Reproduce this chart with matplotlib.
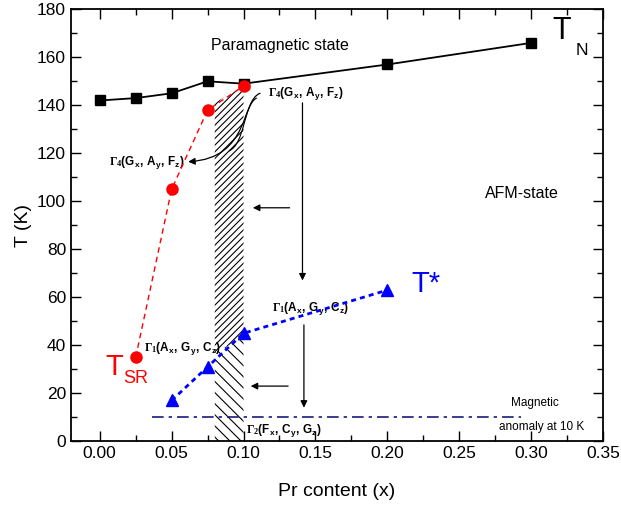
import matplotlib
matplotlib.use("Agg")
import matplotlib.pyplot as plt
from matplotlib.path import Path
from matplotlib.patches import FancyArrowPatch

plt.rcParams['font.family'] = ['Liberation Sans', 'DejaVu Sans']
plt.rcParams['mathtext.fontset'] = 'custom'
plt.rcParams['mathtext.rm'] = 'Liberation Sans'
plt.rcParams['mathtext.bf'] = 'Liberation Serif:bold'
plt.rcParams['mathtext.sf'] = 'Liberation Sans:bold'
plt.rcParams['hatch.linewidth'] = 0.8

# data
x_tn = [0.0, 0.025, 0.05, 0.075, 0.10, 0.20, 0.30]
t_n = [142, 143, 145, 150, 149, 157, 166]

x_sr = [0.025, 0.05, 0.075, 0.10]
t_sr = [35, 105, 138, 148]

x_star = [0.05, 0.075, 0.10, 0.20]
t_star = [17, 31, 45, 63]

anomaly_T = 10
anomaly_x = [0.036, 0.293]

# crossover band
band_x = [0.08, 0.10]
band_top = [141, 148]
band_mid = [37, 43]

fig = plt.figure(figsize=(6.21, 5.08), dpi=100)
ax = fig.add_axes([0.1143, 0.1313, 0.8567, 0.8504])

# hatched band
ax.fill([band_x[0], band_x[1], band_x[1], band_x[0]],
        [band_mid[0], band_mid[1], band_top[1], band_top[0]],
        facecolor='none', edgecolor='black', hatch='/////', lw=0)
ax.fill([band_x[0], band_x[1], band_x[1], band_x[0]],
        [0, 0, band_mid[1], band_mid[0]],
        facecolor='none', edgecolor='black', hatch='\\\\\\', lw=0)

ax.plot(x_tn, t_n, color='black', lw=1.3, marker='s', ms=7, zorder=5)
ax.plot(x_sr, t_sr, color='red', lw=1.0, ls=(0, (4, 3)), marker='o', ms=8,
        zorder=5)
ax.plot(x_star, t_star, color='blue', lw=2.0, ls=(0, (1.8, 1.5)),
        marker='^', ms=8, zorder=5)
ax.plot(anomaly_x, [anomaly_T, anomaly_T], color='#1a1a80', lw=1.2,
        ls=(0, (7, 3, 2, 3)))

# axes
ax.set_xlim(-0.02, 0.35)
ax.set_ylim(0, 180)
ax.set_xticks([0.0, 0.05, 0.10, 0.15, 0.20, 0.25, 0.30, 0.35])
ax.set_xticks([0.025 + 0.05 * i for i in range(7)], minor=True)
ax.set_yticks(range(0, 181, 20))
ax.set_yticks(range(10, 180, 20), minor=True)
ax.tick_params(which='both', direction='in', top=True, right=True,
               labelsize=12.5, width=1)
ax.tick_params(which='major', length=7)
ax.tick_params(which='minor', length=4)
for s in ax.spines.values():
    s.set_linewidth(1.3)
ax.set_xlabel('Pr content (x)', fontsize=14, labelpad=16)
ax.set_ylabel('T (K)', fontsize=14, labelpad=4)

# big labels
ax.text(0.3146, 171, 'T', fontsize=22, va='center', ha='left')
ax.text(0.331, 163, 'N', fontsize=12.5, va='center', ha='left')
ax.text(0.2167, 65.5, 'T*', fontsize=21, va='center', ha='left', color='blue')
ax.text(0.004, 31, 'T', fontsize=21, va='center', ha='left', color='red')
ax.text(0.016, 26, 'SR', fontsize=13, va='center', ha='left', color='red')

ax.text(0.125, 165, 'Paramagnetic state', fontsize=11.5, ha='center',
        va='center')
ax.text(0.2934, 103.3, 'AFM-state', fontsize=11.5, ha='center', va='center')
ax.text(0.286, 15.8, 'Magnetic', fontsize=8.5, ha='left', va='center')
ax.text(0.2778, 6, 'anomaly at 10 K', fontsize=8.5, ha='left', va='center')

g4 = r'$\mathbf{\Gamma_4}\mathsf{(G_x,\,A_y,\,F_z)}$'
g1 = r'$\mathbf{\Gamma_1}\mathsf{(A_x,\,G_y,\,C_z)}$'
g2 = r'$\mathbf{\Gamma_2}\mathsf{(F_x,\,C_y,\,G_z)}$'
ax.text(0.117, 145, g4, fontsize=8.5, ha='left', va='center')
ax.text(0.0065, 116.2, g4, fontsize=8.5, ha='left', va='center')
ax.text(0.12, 55.4, g1, fontsize=8.5, ha='left', va='center')
ax.text(0.031, 38.7, g1, fontsize=8.5, ha='left', va='center')
ax.text(0.102, 4.7, g2, fontsize=8.5, ha='left', va='center')

# arrows
aprops = dict(arrowstyle='-|>', color='black', lw=0.9,
              mutation_scale=10, shrinkA=0, shrinkB=0)
ax.add_patch(FancyArrowPatch((0.141, 141), (0.141, 67), **aprops))
ax.add_patch(FancyArrowPatch((0.142, 48.5), (0.142, 14), **aprops))
ax.add_patch(FancyArrowPatch((0.132, 97.3), (0.1065, 97.3), **aprops))
ax.add_patch(FancyArrowPatch((0.131, 23), (0.105, 23), **aprops))

curve = Path([(0.1115, 145), (0.098, 142), (0.105, 118), (0.0615, 116.5)],
             [Path.MOVETO, Path.CURVE4, Path.CURVE4, Path.CURVE4])
ax.add_patch(FancyArrowPatch(path=curve, **aprops))
curve2 = Path([(0.109, 143), (0.100, 140), (0.101, 124), (0.090, 121)],
              [Path.MOVETO, Path.CURVE4, Path.CURVE4, Path.CURVE4])
ax.add_patch(FancyArrowPatch(path=curve2, arrowstyle='-', color='black',
                             lw=0.8, shrinkA=0, shrinkB=0))

fig.savefig('out.png', dpi=100)
